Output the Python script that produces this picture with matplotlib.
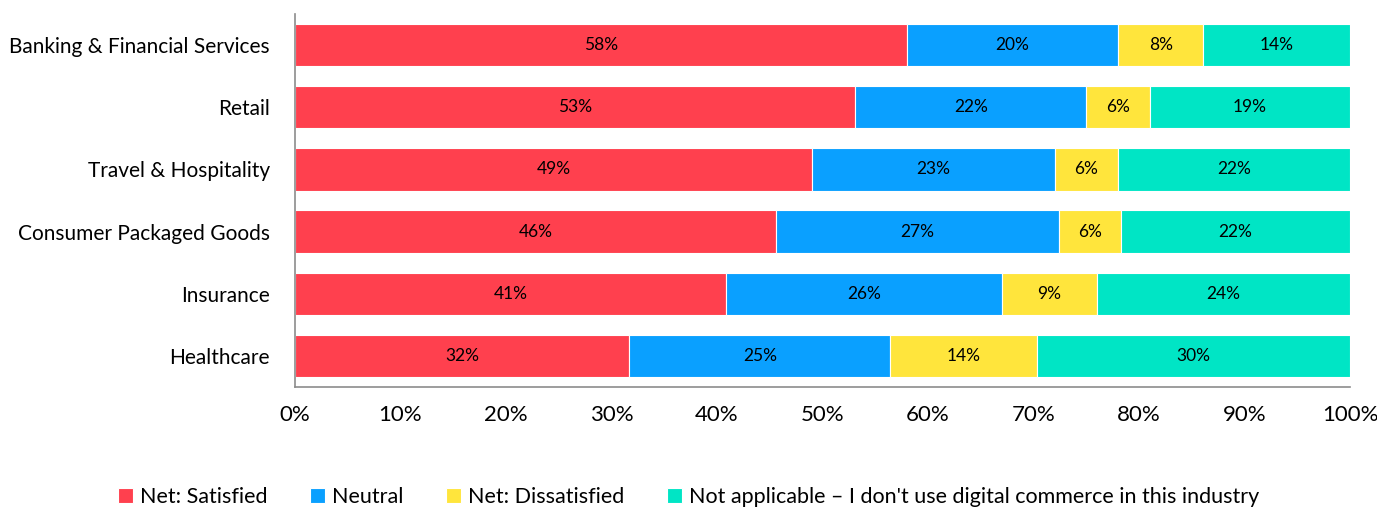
import matplotlib
matplotlib.use('Agg')
from matplotlib import pyplot as plt
import numpy as np

plt.rcParams['font.family'] = ['Lato', 'DejaVu Sans']

# categories top to bottom
industries = ['Banking & Financial Services', 'Retail', 'Travel & Hospitality',
              'Consumer Packaged Goods', 'Insurance', 'Healthcare']

satisfied = [58.0, 53.1, 49.0, 45.6, 40.9, 31.7]
neutral = [20.0, 21.9, 23.0, 26.8, 26.1, 24.7]
dissatisfied = [8.1, 6.0, 6.0, 5.9, 9.0, 13.9]
not_applicable = [13.9, 19.0, 22.0, 21.7, 24.0, 29.7]

series_names = ['Net: Satisfied', 'Neutral', 'Net: Dissatisfied',
                "Not applicable \u2013 I don't use digital commerce in this industry"]
colors = ['#FF404E', '#0AA0FF', '#FFE53C', '#00E5C5']

xticks = [0, 10, 20, 30, 40, 50, 60, 70, 80, 90, 100]

fig = plt.figure(figsize=(13.77, 5.12), dpi=100)
ax = fig.add_axes([295/1377, 1-387/512, (1350-295)/1377, (387-14)/512])

y = np.arange(len(industries))
left = np.zeros(len(industries))
for vals, name, col in zip([satisfied, neutral, dissatisfied, not_applicable], series_names, colors):
    vals = np.array(vals)
    ax.barh(y, vals, left=left, height=0.68, color=col, edgecolor='white',
            linewidth=0.8, label=name)
    for yi, l, v in zip(y, left, vals):
        ax.text(l + v/2, yi, '%d%%' % round(v), ha='center', va='center',
                fontsize=12.5, color='black')
    left += vals

ax.set_ylim(len(industries)-0.5, -0.5)
ax.set_xlim(0, 100)
ax.set_yticks(y)
ax.set_yticklabels(industries, fontsize=15)
ax.set_xticks(xticks)
ax.set_xticklabels(['%d%%' % t for t in xticks], fontsize=16)
ax.tick_params(length=0, pad=13, axis='x')
ax.tick_params(length=0, pad=18, axis='y')
for s in ['top', 'right']:
    ax.spines[s].set_visible(False)
for s in ['left', 'bottom']:
    ax.spines[s].set_color('#8c8c8c')
    ax.spines[s].set_linewidth(1.2)

fig.legend(loc='lower center', bbox_to_anchor=(0.5, -0.028), ncol=4, frameon=False,
           fontsize=15.5, handlelength=0.7, handleheight=0.7, handletextpad=0.3,
           columnspacing=2.0)

fig.savefig('out.png', dpi=100)
